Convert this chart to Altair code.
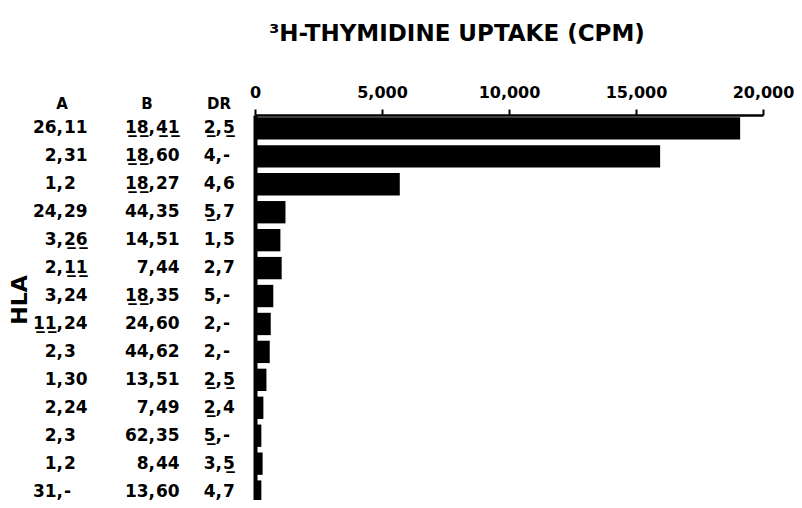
import re
import altair as alt
import pandas as pd

# ---- data ----
a_alleles = ["26,11", "2,31", "1,2", "24,29", "3,[26]", "2,[11]", "3,24",
             "[11],24", "2,3", "1,30", "2,24", "2,3", "1,2", "31,-"]
b_alleles = ["[18],[41]", "[18],60", "[18],27", "44,35", "14,51", "7,44", "[18],35",
             "24,60", "44,62", "13,51", "7,49", "62,35", "8,44", "13,60"]
dr_alleles = ["[2],[5]", "4,-", "4,6", "[5],7", "1,5", "2,7", "5,-",
              "2,-", "2,-", "[2],[5]", "[2],4", "[5],-", "3,[5]", "4,7"]
cpm = [19100, 15950, 5700, 1200, 1000, 1050, 720, 620, 580, 450, 330, 250, 300, 250]
axis_ticks = [0, 5000, 10000, 15000, 20000]
column_heads = ["A", "B", "DR"]
title_text = "³H-THYMIDINE UPTAKE (CPM)"
side_label = "HLA"

FONT = "DejaVu Sans"


def underline(s):
    # [..] marks underlined characters -> combining low line
    return re.sub(r"\[([^\]]*)\]",
                  lambda m: "".join(c + "\u0332" for c in m.group(1)), s)


def split(s):
    left, right = s.split(",", 1)
    return underline(left) + ",", underline(right)


rows = []
for i in range(len(cpm)):
    al, ar = split(a_alleles[i])
    bl, br = split(b_alleles[i])
    dl, dr = split(dr_alleles[i])
    rows.append(dict(row=i, cpm=cpm[i], al=al, ar=ar, bl=bl, br=br, dl=dl, dr=dr))
df = pd.DataFrame(rows)

y_enc = alt.Y(
    "row:O",
    scale=alt.Scale(paddingInner=0.2, paddingOuter=0.08, range=[0, 390]),
    axis=alt.Axis(labels=False, ticks=False, domain=True, domainColor="black",
                  domainWidth=4, title=None, grid=False),
)

bars = alt.Chart(df).mark_bar(color="black").encode(
    x=alt.X("cpm:Q",
            scale=alt.Scale(domain=[0, 20000], nice=False),
            axis=alt.Axis(orient="top", values=axis_ticks, format=",.0f", title=None,
                          grid=False, domainColor="black", domainWidth=2.5,
                          tickColor="black", tickWidth=2, tickSize=6,
                          labelFont=FONT, labelFontSize=16, labelFontWeight="bold",
                          labelColor="black", labelPadding=9, labelFlush=False)),
    y=y_enc,
)


def col_text(field, align, xpos):
    return alt.Chart(df).mark_text(
        align=align, baseline="middle", font=FONT, fontSize=17,
        fontWeight="bold", color="black",
    ).encode(x=alt.value(xpos), y=y_enc, text=alt.Text(f"{field}:N"))


def fixed_text(txt, xpos, ypos, size, angle=0):
    return alt.Chart(alt.Data(values=[{"t": txt}])).mark_text(
        align="center", baseline="middle", font=FONT, fontSize=size,
        fontWeight="bold", color="black", angle=angle,
    ).encode(x=alt.value(xpos), y=alt.value(ypos), text="t:N")


layers = [
    bars,
    col_text("al", "right", -192), col_text("ar", "left", -191),
    col_text("bl", "right", -100), col_text("br", "left", -99),
    col_text("dl", "right", -33), col_text("dr", "left", -32),
    fixed_text(column_heads[0], -193, -11, 15),
    fixed_text(column_heads[1], -108, -11, 15),
    fixed_text(column_heads[2], -36, -11, 15),
    fixed_text(side_label, -235, 185, 22, angle=270),
]

chart = alt.layer(*layers).properties(
    width=508,
    height=385,
    autosize=alt.AutoSizeParams(type="none"),
    padding={"left": 247, "top": 107, "right": 31, "bottom": 0},
    title=alt.TitleParams(title_text, font=FONT, fontSize=23, fontWeight="bold",
                          color="black", anchor="middle", dx=-52, offset=38),
    background="white",
).configure_view(stroke=None)

chart.save("out.html", embed_options={"renderer": "svg", "actions": False})
